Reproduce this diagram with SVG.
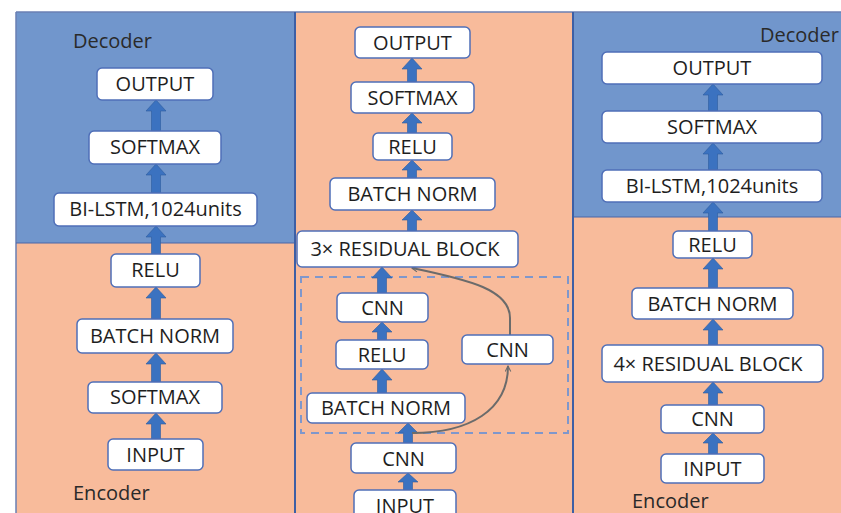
<svg xmlns="http://www.w3.org/2000/svg" width="841" height="513" viewBox="0 0 841 513">
<style>
.box{fill:#ffffff;stroke:#4f6fb8;stroke-width:1.5}
.t{font-family:"Open Sans","Liberation Sans",sans-serif;font-size:20px;fill:#1e1e1e;text-anchor:middle}
.lbl{font-family:"Open Sans","Liberation Sans",sans-serif;font-size:20px;fill:#2a2a2a}
.arr{fill:#3b72c0;stroke:#2d5c9e;stroke-width:0.6}
.curve{fill:none;stroke:#6b6b6b;stroke-width:2}
</style>
<defs>
<marker id="open" viewBox="0 0 10 10" refX="9" refY="5" markerWidth="7" markerHeight="7" orient="auto" markerUnits="userSpaceOnUse">
<path d="M1,1 L9,5 L1,9" fill="none" stroke="#6b6b6b" stroke-width="1.5"/>
</marker>
</defs>
<rect width="841" height="513" fill="#ffffff"/>
<g id="panels">
<rect x="16" y="12" width="279" height="231" fill="#7196cc"/>
<rect x="16" y="243" width="279" height="270" fill="#f8bb9b"/>
<rect x="295" y="12" width="278" height="501" fill="#f8bb9b"/>
<rect x="573" y="12" width="268" height="205" fill="#7196cc"/>
<rect x="573" y="217" width="268" height="296" fill="#f8bb9b"/>
<line x1="16" y1="12" x2="841" y2="12" stroke="#6a7fb3" stroke-width="1.5"/>
<line x1="16" y1="12" x2="16" y2="513" stroke="#6a7fb3" stroke-width="1.5"/>
<line x1="16" y1="243" x2="295" y2="243" stroke="#4a67a8" stroke-width="1.2"/>
<line x1="573" y1="217" x2="841" y2="217" stroke="#4a67a8" stroke-width="1.2"/>
<line x1="295" y1="12" x2="295" y2="513" stroke="#3d5fa5" stroke-width="2"/>
<line x1="573" y1="12" x2="573" y2="513" stroke="#3d5fa5" stroke-width="2"/>
<rect x="301" y="277" width="267" height="156" fill="none" stroke="#7f97cc" stroke-width="2" stroke-dasharray="8,6"/>
<text class="lbl" x="73" y="48">Decoder</text>
<text class="lbl" x="73" y="500">Encoder</text>
<text class="lbl" x="760" y="42">Decoder</text>
<text class="lbl" x="632" y="508">Encoder</text>
</g>
<g id="connectors">
<polygon class="arr" points="156,100 166,111 160.5,111 160.5,131 151.5,131 151.5,111 146,111"/>
<polygon class="arr" points="156,164 166,175 160.5,175 160.5,193 151.5,193 151.5,175 146,175"/>
<polygon class="arr" points="156,226 166,237 160.5,237 160.5,254 151.5,254 151.5,237 146,237"/>
<polygon class="arr" points="156,287 166,298 160.5,298 160.5,319 151.5,319 151.5,298 146,298"/>
<polygon class="arr" points="156,353 166,364 160.5,364 160.5,382 151.5,382 151.5,364 146,364"/>
<polygon class="arr" points="156,413 166,424 160.5,424 160.5,439 151.5,439 151.5,424 146,424"/>
<polygon class="arr" points="412,58 422,69 416.5,69 416.5,82 407.5,82 407.5,69 402,69"/>
<polygon class="arr" points="412,113 422,123 416.5,123 416.5,133 407.5,133 407.5,123 402,123"/>
<polygon class="arr" points="412,160 422,170 416.5,170 416.5,178 407.5,178 407.5,170 402,170"/>
<polygon class="arr" points="412,210 422,220 416.5,220 416.5,231 407.5,231 407.5,220 402,220"/>
<polygon class="arr" points="382,267 392,278 386.5,278 386.5,293 377.5,293 377.5,278 372,278"/>
<polygon class="arr" points="382,322 392,332 386.5,332 386.5,340 377.5,340 377.5,332 372,332"/>
<polygon class="arr" points="382,369 392,380 386.5,380 386.5,393 377.5,393 377.5,380 372,380"/>
<polygon class="arr" points="408,423 418,433 412.5,433 412.5,443 403.5,443 403.5,433 398,433"/>
<polygon class="arr" points="408,473 418,482 412.5,482 412.5,490 403.5,490 403.5,482 398,482"/>
<polygon class="arr" points="713,84 723,95 717.5,95 717.5,111 708.5,111 708.5,95 703,95"/>
<polygon class="arr" points="713,143 723,154 717.5,154 717.5,170 708.5,170 708.5,154 703,154"/>
<polygon class="arr" points="713,202 723,213 717.5,213 717.5,231 708.5,231 708.5,213 703,213"/>
<polygon class="arr" points="713,258 723,269 717.5,269 717.5,288 708.5,288 708.5,269 703,269"/>
<polygon class="arr" points="713,319 723,330 717.5,330 717.5,345 708.5,345 708.5,330 703,330"/>
<polygon class="arr" points="713,382 723,393 717.5,393 717.5,405 708.5,405 708.5,393 703,393"/>
<polygon class="arr" points="713,433 723,443 717.5,443 717.5,454 708.5,454 708.5,443 703,443"/>
<path class="curve" d="M412,433 C470,433 508,410 508,366" marker-end="url(#open)"/>
<path class="curve" d="M510,335 L510,318 C510,290 470,280 412,268" marker-end="url(#open)"/>
</g>
<g id="l-output"><rect class="box" x="97" y="68" width="116" height="32" rx="5"/><text class="t" x="155" y="91">OUTPUT</text></g>
<g id="l-softmax2"><rect class="box" x="89" y="131" width="132" height="33" rx="5"/><text class="t" x="155" y="154">SOFTMAX</text></g>
<g id="l-bilstm"><rect class="box" x="54" y="193" width="203" height="33" rx="5"/><text class="t" x="155.5" y="216">BI-LSTM,1024units</text></g>
<g id="l-relu"><rect class="box" x="111" y="254" width="89" height="33" rx="5"/><text class="t" x="155.5" y="277">RELU</text></g>
<g id="l-batchnorm"><rect class="box" x="77" y="319" width="156" height="34" rx="5"/><text class="t" x="155" y="343">BATCH NORM</text></g>
<g id="l-softmax1"><rect class="box" x="88" y="382" width="134" height="31" rx="5"/><text class="t" x="155" y="404">SOFTMAX</text></g>
<g id="l-input"><rect class="box" x="108" y="439" width="95" height="31" rx="5"/><text class="t" x="155.5" y="462">INPUT</text></g>
<g id="m-output"><rect class="box" x="355" y="27" width="115" height="31" rx="5"/><text class="t" x="412.5" y="50">OUTPUT</text></g>
<g id="m-softmax"><rect class="box" x="351" y="82" width="123" height="31" rx="5"/><text class="t" x="412.5" y="105">SOFTMAX</text></g>
<g id="m-relu"><rect class="box" x="373" y="133" width="79" height="27" rx="5"/><text class="t" x="412.5" y="154">RELU</text></g>
<g id="m-batchnorm"><rect class="box" x="330" y="178" width="165" height="32" rx="5"/><text class="t" x="412.5" y="201">BATCH NORM</text></g>
<g id="m-residual"><rect class="box" x="297" y="231" width="221" height="36" rx="5"/><text class="t" x="405" y="256">3× RESIDUAL BLOCK</text></g>
<g id="m-cnn-inner"><rect class="box" x="337" y="293" width="91" height="29" rx="5"/><text class="t" x="382.5" y="315">CNN</text></g>
<g id="m-relu-inner"><rect class="box" x="336" y="340" width="92" height="29" rx="5"/><text class="t" x="382" y="362">RELU</text></g>
<g id="m-batchnorm-inner"><rect class="box" x="307" y="393" width="158" height="30" rx="5"/><text class="t" x="386" y="415">BATCH NORM</text></g>
<g id="m-cnn-skip"><rect class="box" x="462" y="335" width="91" height="29" rx="5"/><text class="t" x="507.5" y="357">CNN</text></g>
<g id="m-cnn"><rect class="box" x="351" y="443" width="105" height="30" rx="5"/><text class="t" x="403.5" y="466">CNN</text></g>
<g id="m-input"><rect class="box" x="354" y="490" width="102" height="30" rx="5"/><text class="t" x="405" y="513">INPUT</text></g>
<g id="r-output"><rect class="box" x="602" y="52" width="220" height="32" rx="5"/><text class="t" x="712" y="75">OUTPUT</text></g>
<g id="r-softmax"><rect class="box" x="602" y="111" width="220" height="32" rx="5"/><text class="t" x="712" y="134">SOFTMAX</text></g>
<g id="r-bilstm"><rect class="box" x="602" y="170" width="220" height="32" rx="5"/><text class="t" x="712" y="193">BI-LSTM,1024units</text></g>
<g id="r-relu"><rect class="box" x="673" y="231" width="79" height="27" rx="5"/><text class="t" x="712.5" y="252">RELU</text></g>
<g id="r-batchnorm"><rect class="box" x="632" y="288" width="161" height="31" rx="5"/><text class="t" x="712.5" y="311">BATCH NORM</text></g>
<g id="r-residual"><rect class="box" x="602" y="345" width="221" height="37" rx="5"/><text class="t" x="708" y="371">4× RESIDUAL BLOCK</text></g>
<g id="r-cnn"><rect class="box" x="661" y="405" width="103" height="28" rx="5"/><text class="t" x="712.5" y="426">CNN</text></g>
<g id="r-input"><rect class="box" x="661" y="454" width="103" height="29" rx="5"/><text class="t" x="712.5" y="476">INPUT</text></g>
</svg>
